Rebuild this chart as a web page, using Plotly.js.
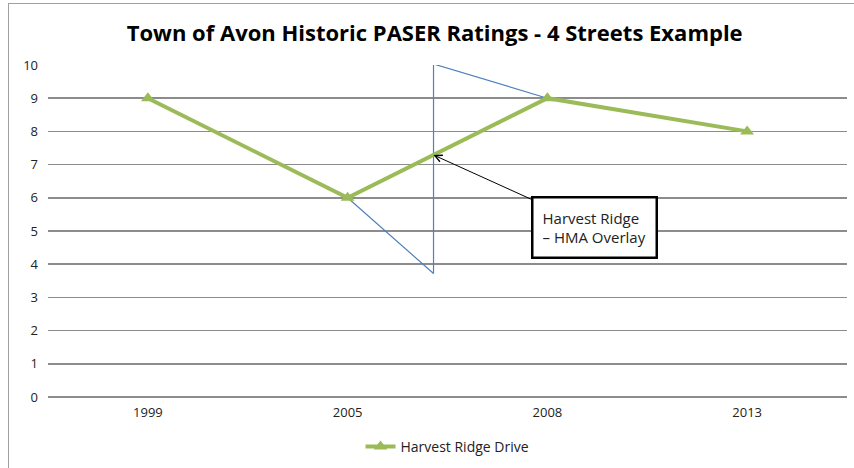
<!DOCTYPE html>
<html>
<head>
<meta charset="utf-8">
<script src="https://cdn.plot.ly/plotly-3.0.1.min.js"></script>
<style>
html,body{margin:0;padding:0;background:#fff;overflow:hidden;}
#frame{position:absolute;left:8px;top:3px;width:900px;height:500px;border:1.5px solid #a0a0a0;box-sizing:border-box;pointer-events:none;z-index:5;}
#chart{position:absolute;left:0;top:0;width:854px;height:468px;}
</style>
</head>
<body>
<div id="chart"></div>
<div id="frame"></div>
<script>
const categories = ["1999", "2005", "2008", "2013"];
const categoryIndex = [0, 1, 2, 3];
const ratings = [9, 6, 9, 8];
const overlayX = [1, 1.43, 1.43, 2];
const overlayY = [6, 3.72, 10.03, 9];
const yTicks = [0,1,2,3,4,5,6,7,8,9,10];
const arrowPoint = {x: 1.43, y: 7.29};

const traces = [
  {
    x: overlayX, y: overlayY, type: 'scatter', mode: 'lines',
    line: {color: '#4f81bd', width: 1.2}, showlegend: false, hoverinfo: 'skip'
  },
  {
    x: categoryIndex, y: ratings, type: 'scatter', mode: 'lines+markers',
    name: 'Harvest Ridge Drive',
    line: {color: '#9bbb59', width: 4},
    marker: {symbol: 'triangle-up', size: 12, color: '#9bbb59'}
  }
];

const layout = {
  width: 854, height: 468,
  paper_bgcolor: '#ffffff', plot_bgcolor: '#ffffff',
  margin: {l: 48, r: 7, t: 65, b: 71},
  title: {text: '<b>Town of Avon Historic PASER Ratings - 4 Streets Example</b>',
          font: {family: 'Open Sans, sans-serif', size: 22, color: '#000'},
          x: 0.509, xanchor: 'center', y: 0.928, yanchor: 'middle'},
  font: {family: 'Open Sans, sans-serif', size: 13, color: '#333'},
  xaxis: {
    range: [-0.5, 3.5], tickvals: categoryIndex, ticktext: categories,
    showgrid: false, zeroline: false, showline: false, ticks: '',
    ticklabelstandoff: 6, automargin: false,
    tickfont: {size: 13, color: '#222'}, fixedrange: true
  },
  yaxis: {
    range: [0, 10], tickvals: yTicks, showgrid: true, gridcolor: '#8c8c8c', gridwidth: 1.5,
    zeroline: true, zerolinecolor: '#8c8c8c', zerolinewidth: 1.5,
    showline: false, ticks: '', ticklen: 0, ticklabelstandoff: 9,
    tickfont: {size: 13, color: '#222'}, fixedrange: true, automargin: false
  },
  showlegend: true,
  legend: {orientation: 'h', x: 0.5, xanchor: 'center', y: 0.045, yref: 'container', yanchor: 'middle',
           font: {size: 14, color: '#222'}},
  annotations: [{
    x: arrowPoint.x, y: arrowPoint.y, xref: 'x', yref: 'y',
    text: 'Harvest Ridge<br>– HMA Overlay', align: 'left',
    showarrow: true, arrowhead: 5, arrowsize: 1.4, arrowwidth: 1, arrowcolor: '#000',
    axref: 'pixel', ayref: 'pixel', ax: 161, ay: 73,
    bordercolor: '#000', borderwidth: 2.5, borderpad: 9, bgcolor: '#fff',
    font: {size: 15, color: '#222'}, width: 104, height: 40
  }]
};

Plotly.newPlot('chart', traces, layout, {displayModeBar: false, staticPlot: true});
</script>
</body>
</html>
